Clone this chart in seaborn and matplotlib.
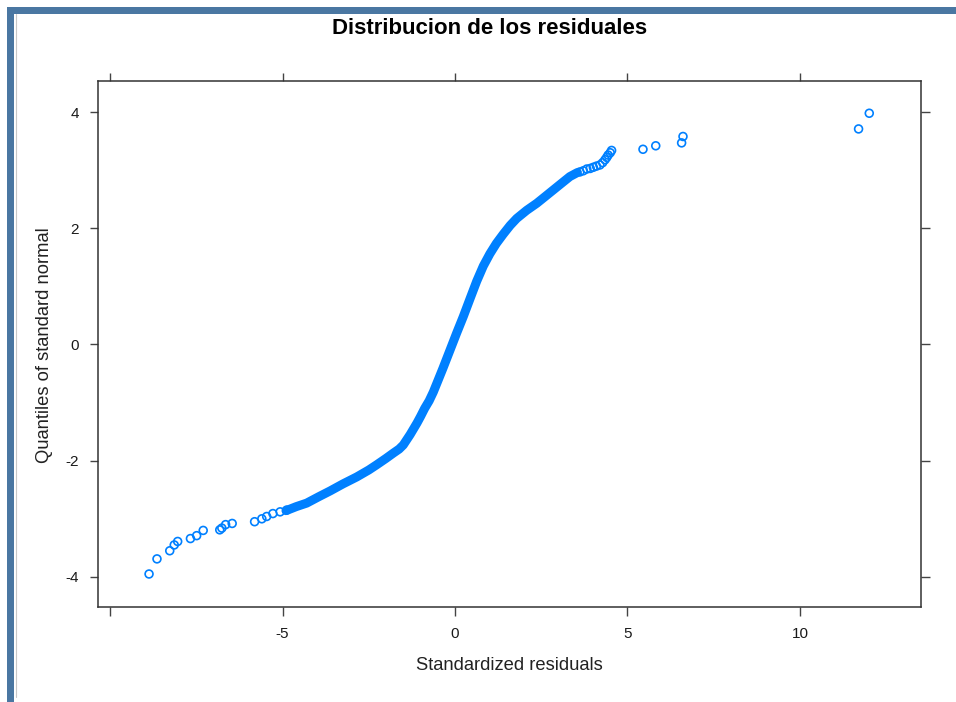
import matplotlib
matplotlib.use("Agg")
import matplotlib.pyplot as plt
import seaborn as sns
import pandas as pd
from matplotlib.patches import Rectangle
from matplotlib.lines import Line2D

# ---- data ----
low_tail_x = [-8.87, -8.64, -8.27, -8.14, -8.04, -7.67, -7.49, -7.30, -6.82, -6.76,
              -6.65, -6.46, -5.81, -5.60, -5.46, -5.28, -5.07, -4.88]
low_tail_y = [-3.95, -3.69, -3.55, -3.45, -3.39, -3.34, -3.29, -3.20, -3.19, -3.16,
              -3.10, -3.08, -3.05, -3.00, -2.96, -2.91, -2.88, -2.85]

band_x = [-4.90, -4.60, -4.30, -3.95, -3.62, -3.25, -2.85, -2.50, -2.27, -2.00,
          -1.79, -1.62, -1.50, -1.40, -1.30, -1.20, -1.10, -1.00, -0.88, -0.75,
          -0.63, -0.50, -0.35, -0.14, 0.05, 0.24, 0.45, 0.63, 0.82, 1.01,
          1.20, 1.40, 1.60, 1.79, 2.08, 2.37, 2.60, 2.85, 3.10, 3.33, 3.55]
band_y = [-2.86, -2.79, -2.73, -2.62, -2.52, -2.40, -2.28, -2.16, -2.07, -1.96,
          -1.87, -1.80, -1.73, -1.64, -1.55, -1.45, -1.35, -1.24, -1.10, -0.97,
          -0.82, -0.63, -0.41, -0.09, 0.20, 0.48, 0.81, 1.09, 1.35, 1.56,
          1.74, 1.90, 2.05, 2.17, 2.31, 2.43, 2.54, 2.66, 2.78, 2.89, 2.96]

high_tail_x = [3.62, 3.72, 3.82, 3.92, 4.01, 4.10, 4.20, 4.28, 4.35, 4.40, 4.44,
               4.50, 4.54, 5.45, 5.82, 6.57, 6.61, 11.70, 12.01]
high_tail_y = [2.97, 2.99, 3.02, 3.03, 3.05, 3.07, 3.09, 3.13, 3.18, 3.22, 3.26,
               3.30, 3.34, 3.36, 3.42, 3.47, 3.58, 3.71, 3.98]

x_ticks = [-10, -5, 0, 5, 10]
x_tick_labels = ["", "-5", "0", "5", "10"]
y_ticks = [-4, -2, 0, 2, 4]
y_tick_labels = ["-4", "-2", "0", "2", "4"]

title = "Distribucion de los residuales"
xlabel = "Standardized residuals"
ylabel = "Quantiles of standard normal"

# ---- drawing ----
sns.set_theme(style="white")
plt.rcParams["font.family"] = ["Liberation Sans", "DejaVu Sans"]
plt.rcParams["axes.unicode_minus"] = False

W, H = 956, 702
fig = plt.figure(figsize=(W / 100, H / 100), dpi=100)
fig.patch.set_facecolor("white")

left, right, top, bottom = 98, 921, 81, 607
ax = fig.add_axes([left / W, 1 - bottom / H, (right - left) / W, (bottom - top) / H])

blue = "#0080ff"
points = pd.DataFrame({
    "x": low_tail_x + high_tail_x,
    "y": low_tail_y + high_tail_y,
})
band = pd.DataFrame({"x": band_x, "y": band_y})

line_w_pt = 9.0 * 72 / 100
sns.lineplot(data=band, x="x", y="y", sort=False, ax=ax, color=blue,
             linewidth=line_w_pt, solid_capstyle="round", solid_joinstyle="round")
sns.scatterplot(data=points, x="x", y="y", ax=ax, marker="o", s=32,
                facecolor="none", edgecolor=blue, linewidth=1.2)

ax.set_xlim(-10.35, 13.51)
ax.set_ylim(-4.518, 4.535)

ax.set_xticks(x_ticks)
ax.set_xticklabels(x_tick_labels)
ax.set_yticks(y_ticks)
ax.set_yticklabels(y_tick_labels)
ax.tick_params(axis="both", which="both", direction="out", length=8.5 * 0.72,
               width=1.0, color="#444444", labelsize=11, labelcolor="#1a1a1a",
               bottom=True, top=True, left=True, right=True,
               labelbottom=True, labeltop=False, labelleft=True, labelright=False,
               pad=8)
ax.tick_params(axis="y", pad=7.5)
for s in ax.spines.values():
    s.set_visible(True)
    s.set_color("#333333")
    s.set_linewidth(1.1)

ax.set_xlabel("")
ax.set_ylabel("")
fig.text(509 / W, 1 - 665 / H, xlabel, ha="center", va="center", fontsize=13.2, color="#222222")
fig.text(45 / W, 1 - 345 / H, ylabel, ha="center", va="center", rotation=90,
         fontsize=13.2, color="#222222")
fig.text(490 / W, 1 - 29 / H, title, ha="center", va="center", fontsize=16,
         fontweight="bold", color="black")

# screenshot frame
frame_col = "#4a77a2"
fig.add_artist(Rectangle((7 / W, 0), 6.5 / W, 1 - 7 / H, transform=fig.transFigure,
                         facecolor=frame_col, edgecolor="none"))
fig.add_artist(Rectangle((7 / W, 1 - 13.5 / H), 1 - 7 / W, 6.5 / H, transform=fig.transFigure,
                         facecolor=frame_col, edgecolor="none"))
fig.add_artist(Line2D([15.5 / W, 15.5 / W], [1 - 697 / H, 1 - 14 / H], transform=fig.transFigure,
                      color="#c8c8c8", linewidth=0.8))

fig.savefig("out.png", dpi=100, facecolor="white")
